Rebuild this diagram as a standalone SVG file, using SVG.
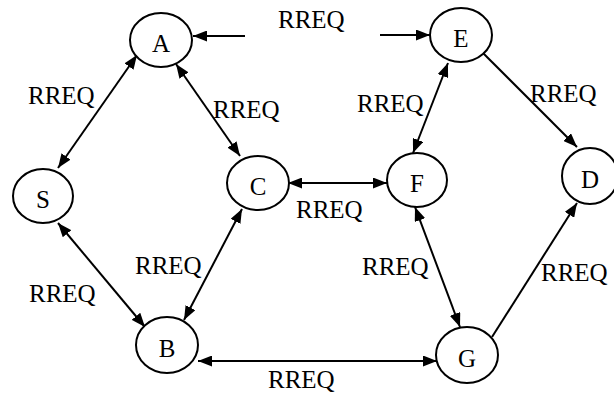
<svg xmlns="http://www.w3.org/2000/svg" width="614" height="393" viewBox="0 0 614 393">
<style>
.n ellipse{fill:#fff;stroke:#000;stroke-width:2}
.n text{font-family:"Liberation Serif","Times New Roman",serif;font-size:25px;text-anchor:middle;fill:#000}
.c line{stroke:#000;stroke-width:2}
.l{font-family:"Liberation Serif","Times New Roman",serif;font-size:25px;fill:#000}
</style>
<defs>
<marker id="ah" markerWidth="14" markerHeight="11" refX="14" refY="5.5" orient="auto-start-reverse" markerUnits="userSpaceOnUse">
<path d="M0,0 L14,5.5 L0,11 Z" fill="#000"/>
</marker>
</defs>
<g class="c">
<line x1="245" y1="36" x2="193" y2="36" marker-end="url(#ah)"/>
<line x1="380" y1="35" x2="430" y2="35" marker-end="url(#ah)"/>
<line x1="58" y1="168" x2="137" y2="55" marker-start="url(#ah)" marker-end="url(#ah)"/>
<line x1="176" y1="64" x2="240" y2="156" marker-start="url(#ah)" marker-end="url(#ah)"/>
<line x1="288" y1="183" x2="387" y2="183" marker-start="url(#ah)" marker-end="url(#ah)"/>
<line x1="448" y1="63" x2="413" y2="153" marker-start="url(#ah)" marker-end="url(#ah)"/>
<line x1="482" y1="52" x2="577" y2="147" marker-end="url(#ah)"/>
<line x1="58" y1="223" x2="145" y2="327" marker-start="url(#ah)" marker-end="url(#ah)"/>
<line x1="242" y1="209" x2="184" y2="320" marker-start="url(#ah)" marker-end="url(#ah)"/>
<line x1="198" y1="361" x2="437" y2="361" marker-start="url(#ah)" marker-end="url(#ah)"/>
<line x1="415" y1="207" x2="460" y2="327" marker-start="url(#ah)" marker-end="url(#ah)"/>
<line x1="492" y1="337" x2="577" y2="203" marker-end="url(#ah)"/>
</g>
<g id="A" class="n"><ellipse cx="161" cy="40" rx="31" ry="27"/><text x="161" y="52">A</text></g>
<g id="E" class="n"><ellipse cx="461" cy="35" rx="31" ry="27"/><text x="461" y="47">E</text></g>
<g id="S" class="n"><ellipse cx="43" cy="196" rx="30" ry="27"/><text x="43" y="208">S</text></g>
<g id="C" class="n"><ellipse cx="258" cy="183" rx="31" ry="27"/><text x="258" y="195">C</text></g>
<g id="F" class="n"><ellipse cx="417" cy="180" rx="30" ry="27"/><text x="417" y="192">F</text></g>
<g id="D" class="n"><ellipse cx="590" cy="176" rx="28" ry="28"/><text x="590" y="188">D</text></g>
<g id="B" class="n"><ellipse cx="167" cy="345" rx="31" ry="28"/><text x="167" y="357">B</text></g>
<g id="G" class="n"><ellipse cx="467" cy="355" rx="31" ry="28"/><text x="467" y="367">G</text></g>
<g id="labels">
<text class="l" x="278" y="28">RREQ</text>
<text class="l" x="28" y="104">RREQ</text>
<text class="l" x="213" y="118">RREQ</text>
<text class="l" x="357" y="112">RREQ</text>
<text class="l" x="530" y="102">RREQ</text>
<text class="l" x="296" y="218">RREQ</text>
<text class="l" x="135" y="274">RREQ</text>
<text class="l" x="29" y="302">RREQ</text>
<text class="l" x="268" y="388">RREQ</text>
<text class="l" x="362" y="275">RREQ</text>
<text class="l" x="541" y="281">RREQ</text>
</g>
</svg>
